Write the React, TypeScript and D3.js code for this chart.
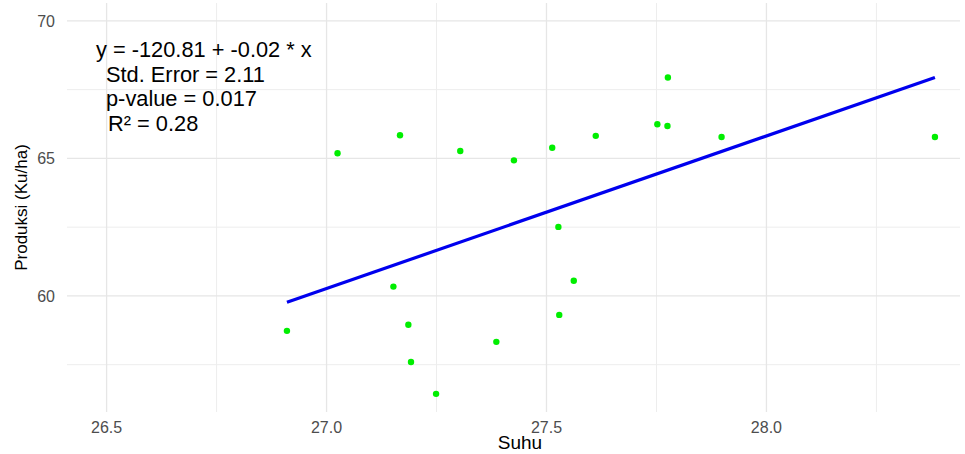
import React from 'react';
import * as d3 from 'd3';

const width = 965;
const height = 454;
const margin = { top: 3, right: 5, bottom: 42, left: 67 };

// Suhu (temperature) vs Produksi (Ku/ha)
const suhu = [
  26.91, 27.025, 27.152, 27.167, 27.186, 27.192, 27.249, 27.304, 27.386, 27.426,
  27.513, 27.527, 27.529, 27.562, 27.612, 27.752, 27.775, 27.776, 27.898, 28.383
];
const produksi = [
  58.73, 65.19, 60.34, 65.84, 58.95, 57.6, 56.44, 65.27, 58.33, 64.93,
  65.39, 62.51, 59.31, 60.55, 65.82, 66.24, 66.18, 67.94, 65.78, 65.78
];

const xTicks = [26.5, 27.0, 27.5, 28.0];
const xMinor = [26.75, 27.25, 27.75, 28.25];
const yTicks = [60, 65, 70];
const yMinor = [57.5, 62.5, 67.5];

const annotation = [
  'y = -120.81 + -0.02 * x',
  'Std. Error = 2.11',
  'p-value = 0.017',
  'R\u00b2 = 0.28'
];
const annotationIndent = [0, 10, 10, 12];

const font = "'Liberation Sans', Arial, Helvetica, sans-serif";

// simple least squares fit, like geom_smooth(method = "lm")
function fit(xs: number[], ys: number[]) {
  const mx = d3.mean(xs) as number;
  const my = d3.mean(ys) as number;
  let sxy = 0;
  let sxx = 0;
  xs.forEach((x, i) => {
    sxy += (x - mx) * (ys[i] - my);
    sxx += (x - mx) * (x - mx);
  });
  const b = sxy / sxx;
  return { a: my - b * mx, b };
}

export default function App() {
  const xScale = d3
    .scaleLinear()
    .domain([26.41, 28.44])
    .range([margin.left, width - margin.right]);
  const yScale = d3
    .scaleLinear()
    .domain([55.78, 70.65])
    .range([height - margin.bottom, margin.top]);

  const { a, b } = fit(suhu, produksi);
  const [xmin, xmax] = d3.extent(suhu) as [number, number];
  const line = d3
    .line<number>()
    .x(d => xScale(d))
    .y(d => yScale(a + b * d));

  const panelTop = margin.top;
  const panelBottom = height - margin.bottom;
  const panelLeft = margin.left;
  const panelRight = width - margin.right;

  return (
    <svg
      width={width}
      height={height}
      style={{ position: 'absolute', left: 0, top: 0, background: '#fff' }}
      fontFamily={font}
    >
      <rect width={width} height={height} fill="#fff" />
      {/* minor grid */}
      {xMinor.map(t => (
        <line key={'xm' + t} x1={xScale(t)} x2={xScale(t)} y1={panelTop} y2={panelBottom}
          stroke="#ededed" strokeWidth={1} />
      ))}
      {yMinor.map(t => (
        <line key={'ym' + t} x1={panelLeft} x2={panelRight} y1={yScale(t)} y2={yScale(t)}
          stroke="#ededed" strokeWidth={1} />
      ))}
      {/* major grid */}
      {xTicks.map(t => (
        <line key={'x' + t} x1={xScale(t)} x2={xScale(t)} y1={panelTop} y2={panelBottom}
          stroke="#e6e6e6" strokeWidth={1.3} />
      ))}
      {yTicks.map(t => (
        <line key={'y' + t} x1={panelLeft} x2={panelRight} y1={yScale(t)} y2={yScale(t)}
          stroke="#e6e6e6" strokeWidth={1.3} />
      ))}

      {/* points */}
      {suhu.map((x, i) => (
        <circle key={i} cx={xScale(x)} cy={yScale(produksi[i])} r={3.2} fill="#00ee00" />
      ))}

      {/* regression line */}
      <path d={line([xmin, xmax]) || ''} fill="none" stroke="#0000ee" strokeWidth={3.2} />

      {/* tick labels */}
      {xTicks.map(t => (
        <text key={'xl' + t} x={xScale(t)} y={433} textAnchor="middle" fontSize={16} fill="#4d4d4d">
          {t.toFixed(1)}
        </text>
      ))}
      {yTicks.map(t => (
        <text key={'yl' + t} x={55} y={yScale(t)} dy="0.36em" textAnchor="end" fontSize={16} fill="#4d4d4d">
          {t}
        </text>
      ))}

      {/* axis titles */}
      <text x={520} y={449} textAnchor="middle" fontSize={19} fill="#000">
        Suhu
      </text>
      <text
        transform={`translate(27, ${(panelTop + panelBottom) / 2}) rotate(-90)`}
        textAnchor="middle"
        fontSize={17}
        fill="#000"
      >
        Produksi (Ku/ha)
      </text>

      {/* annotation */}
      {annotation.map((s, i) => (
        <text key={'a' + i} x={96 + annotationIndent[i]} y={57 + i * 24.5} fontSize={21.8} fill="#000">
          {s}
        </text>
      ))}
    </svg>
  );
}
